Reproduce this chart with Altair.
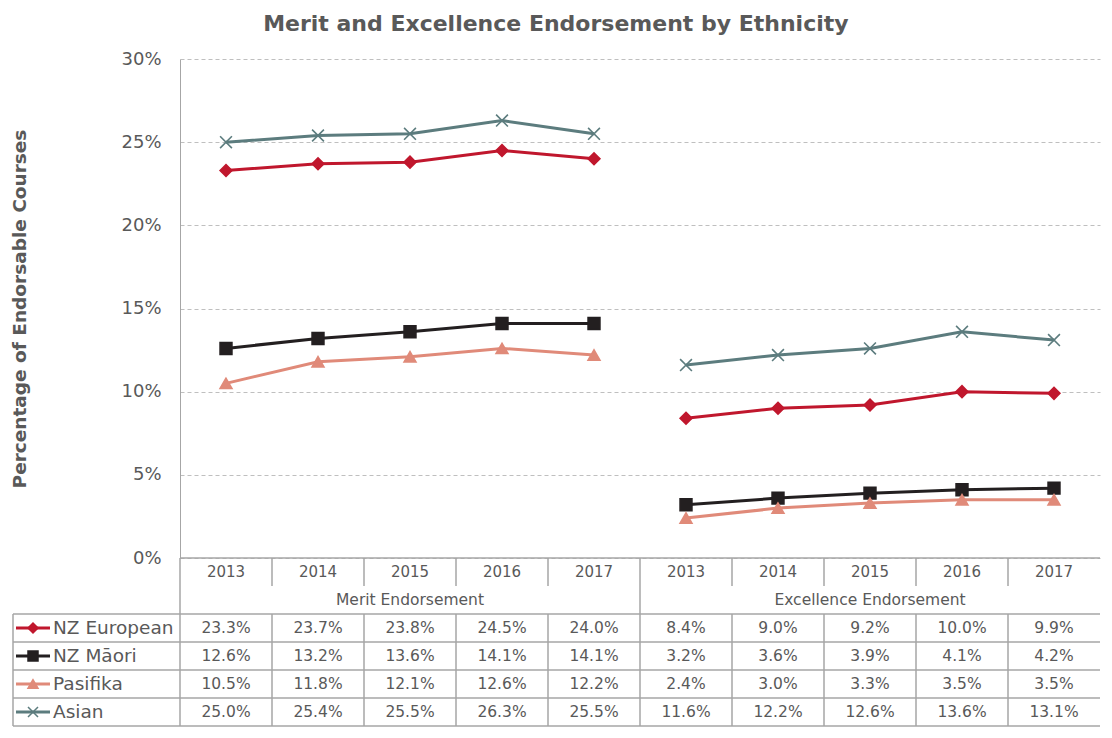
import altair as alt
import pandas as pd

# ---------------- data ----------------
years = ["2013", "2014", "2015", "2016", "2017"]
groups = ["Merit Endorsement", "Excellence Endorsement"]
series = ["NZ European", "NZ Māori", "Pasifika", "Asian"]

merit_nz_european = [0.233, 0.237, 0.238, 0.245, 0.240]
merit_nz_maori = [0.126, 0.132, 0.136, 0.141, 0.141]
merit_pasifika = [0.105, 0.118, 0.121, 0.126, 0.122]
merit_asian = [0.250, 0.254, 0.255, 0.263, 0.255]

excellence_nz_european = [0.084, 0.090, 0.092, 0.100, 0.099]
excellence_nz_maori = [0.032, 0.036, 0.039, 0.041, 0.042]
excellence_pasifika = [0.024, 0.030, 0.033, 0.035, 0.035]
excellence_asian = [0.116, 0.122, 0.126, 0.136, 0.131]

colors = ["#C0172D", "#231F20", "#E08A79", "#5C7C7E"]
shapes = ["diamond", "square", "triangle-up", "M-1,-1L1,1M-1,1L1,-1"]

values = {
    ("Merit Endorsement", "NZ European"): merit_nz_european,
    ("Merit Endorsement", "NZ Māori"): merit_nz_maori,
    ("Merit Endorsement", "Pasifika"): merit_pasifika,
    ("Merit Endorsement", "Asian"): merit_asian,
    ("Excellence Endorsement", "NZ European"): excellence_nz_european,
    ("Excellence Endorsement", "NZ Māori"): excellence_nz_maori,
    ("Excellence Endorsement", "Pasifika"): excellence_pasifika,
    ("Excellence Endorsement", "Asian"): excellence_asian,
}

cols = [f"{g} {y}" for g in groups for y in years]

# ---------------- layout constants ----------------
W = 920          # plot width
H = 499          # plot height
ROW = 28         # table row height
NROWS = 6        # year row, group row, 4 series rows
FONT = "DejaVu Sans"
TXT = "#595959"
LINE = "#A6A6A6"

recs = []
for si, s in enumerate(series):
    for g in groups:
        for y, v in zip(years, values[(g, s)]):
            recs.append(dict(series=s, group=g, year=y, col=f"{g} {y}",
                             value=v, label=f"{v * 100:.1f}%", ty=2 + si + 0.5))
df = pd.DataFrame(recs)

year_df = pd.DataFrame([dict(col=f"{g} {y}", text=y, ty=0.5) for g in groups for y in years])
group_df = pd.DataFrame([dict(col=f"{g} {years[2]}", text=g, ty=1.5) for g in groups])
legend_df = pd.DataFrame([dict(series=s, ty=2 + i + 0.5) for i, s in enumerate(series)])

vrules = []
for g in groups:
    for j, y in enumerate(years):
        c = f"{g} {y}"
        vrules.append(dict(col=c, r0=0, r1=1))
        vrules.append(dict(col=c, r0=2, r1=NROWS))
        if j == 0:
            vrules.append(dict(col=c, r0=1, r1=2))
vrule_df = pd.DataFrame(vrules)
hrule_df = pd.DataFrame(dict(ty=[2, 3, 4, 5, 6]))
axis_line_df = pd.DataFrame(dict(ty=[0]))
legend_border_df = pd.DataFrame(dict(r0=[2], r1=[NROWS]))

# ---------------- scales ----------------
xscale = alt.Scale(type="band", domain=cols, paddingInner=0, paddingOuter=0)
color_scale = alt.Scale(domain=series, range=colors)
shape_scale = alt.Scale(domain=series, range=shapes)
tscale = alt.Scale(domain=[0, NROWS], range=[H, H + NROWS * ROW], nice=False, zero=False)

xc = alt.X("col:N", scale=xscale, axis=None, bandPosition=0.5)
ty = alt.Y("ty:Q", scale=tscale, axis=None)

base = alt.Chart(df)

lines = base.mark_line(strokeWidth=3).encode(
    x=xc,
    y=alt.Y("value:Q",
            scale=alt.Scale(domain=[0, 0.30], nice=False, zero=True),
            axis=alt.Axis(values=[0, 0.05, 0.10, 0.15, 0.20, 0.25, 0.30], format=".0%",
                          title="Percentage of Endorsable Courses",
                          titleFont=FONT, titleFontSize=18.5, titleFontWeight="bold",
                          titleColor=TXT, titlePadding=91,
                          labelFont=FONT, labelFontSize=18, labelColor=TXT,
                          labelPadding=19, ticks=False,
                          domain=True, domainColor=LINE, domainWidth=1,
                          grid=True, gridColor="#BFBFBF", gridDash=[4, 3], gridWidth=1)),
    color=alt.Color("series:N", scale=color_scale, legend=None),
    detail="group:N",
)

points = base.mark_point(filled=True, size=140, strokeWidth=1.6, opacity=1).encode(
    x=xc,
    y=alt.Y("value:Q", scale=alt.Scale(domain=[0, 0.30], nice=False, zero=True), axis=None),
    color=alt.Color("series:N", scale=color_scale, legend=None),
    stroke=alt.Stroke("series:N", scale=color_scale, legend=None),
    shape=alt.Shape("series:N", scale=shape_scale, legend=None),
)

cell_text = base.mark_text(font=FONT, fontSize=15.5, color=TXT, baseline="middle").encode(
    x=xc, y=ty, text="label:N")

year_text = alt.Chart(year_df).mark_text(font=FONT, fontSize=15, color=TXT, baseline="middle").encode(
    x=xc, y=ty, text="text:N")

group_text = alt.Chart(group_df).mark_text(font=FONT, fontSize=15.5, color=TXT, baseline="middle").encode(
    x=xc, y=ty, text="text:N")

vrule = alt.Chart(vrule_df).mark_rule(color=LINE, strokeWidth=1.5).encode(
    x=alt.X("col:N", scale=xscale, axis=None, bandPosition=0),
    y=alt.Y("r0:Q", scale=tscale, axis=None), y2="r1:Q")

hrule = alt.Chart(hrule_df).mark_rule(color=LINE, strokeWidth=1.5).encode(
    x=alt.value(-167), x2=alt.value(W), y=ty)

axis_line = alt.Chart(axis_line_df).mark_rule(color=LINE, strokeWidth=1.5).encode(
    x=alt.value(0), x2=alt.value(W), y=ty)

legend_border = alt.Chart(legend_border_df).mark_rule(color=LINE, strokeWidth=1.5).encode(
    x=alt.value(-167), y=alt.Y("r0:Q", scale=tscale, axis=None), y2="r1:Q")

legend_line = alt.Chart(legend_df).mark_rule(strokeWidth=3).encode(
    x=alt.value(-164), x2=alt.value(-130), y=ty,
    color=alt.Color("series:N", scale=color_scale, legend=None))

legend_point = alt.Chart(legend_df).mark_point(filled=True, size=100, strokeWidth=1.5, opacity=1).encode(
    x=alt.value(-147), y=ty,
    color=alt.Color("series:N", scale=color_scale, legend=None),
    stroke=alt.Stroke("series:N", scale=color_scale, legend=None),
    shape=alt.Shape("series:N", scale=shape_scale, legend=None))

legend_text = alt.Chart(legend_df).mark_text(font=FONT, fontSize=18.5, color=TXT, align="left",
                                             baseline="middle").encode(
    x=alt.value(-127), y=ty, text="series:N")

chart = alt.layer(
    lines, points,
    vrule, hrule, axis_line, legend_border,
    year_text, group_text, cell_text,
    legend_line, legend_point, legend_text,
).resolve_scale(y="independent").properties(
    width=W, height=H,
    padding={"left": 2, "right": 2, "top": 5, "bottom": 2},
    title=alt.TitleParams("Merit and Excellence Endorsement by Ethnicity",
                          font=FONT, fontSize=22, fontWeight="bold", color=TXT,
                          anchor="middle", frame="bounds", offset=14),
).configure_view(stroke=None)

chart.save("out.html", embed_options={"renderer": "svg", "actions": False})
